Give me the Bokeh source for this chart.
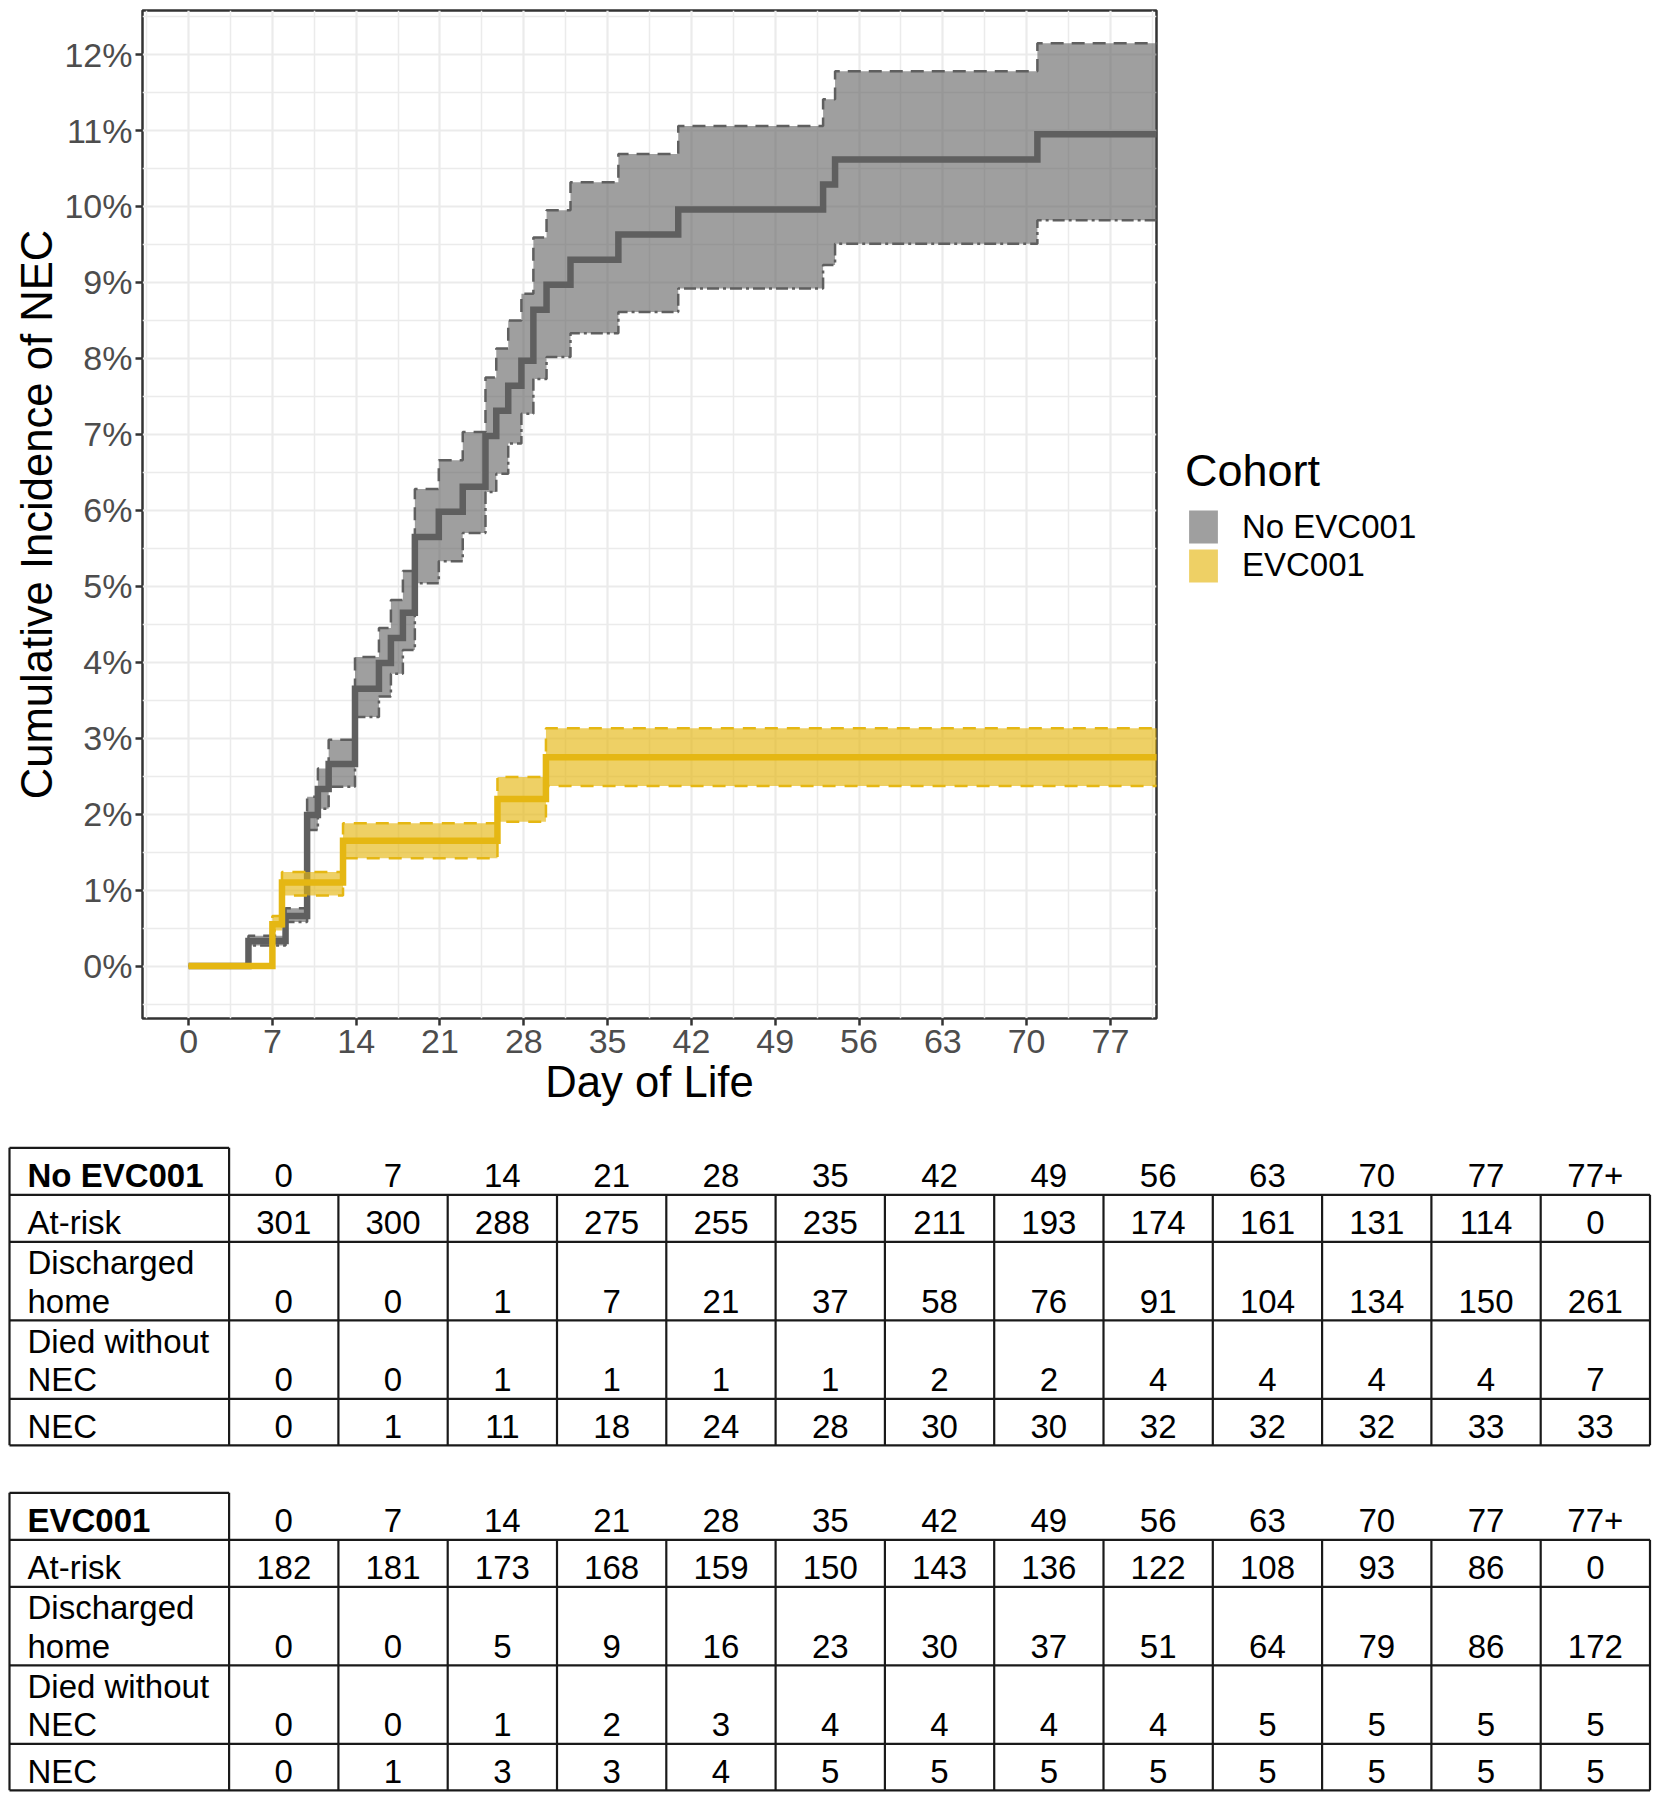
from bokeh.plotting import figure
from bokeh.models import (Range1d, FixedTicker, PrintfTickFormatter, Legend, LegendItem,
                          ColumnDataSource)
from bokeh.layouts import row
from bokeh.core.properties import value
from bokeh.embed import file_html
from bokeh.resources import INLINE

# ---------------- data: cumulative incidence (percent) ----------------
no_evc_day = [0, 5.0, 8.1, 9.9, 10.8, 11.7, 13.9, 15.9, 16.9, 17.9, 18.9, 20.9, 22.9,
              24.8, 25.7, 26.7, 27.8, 28.8, 29.9, 31.9, 35.9, 40.9, 53.0, 54.0, 70.9, 84]
no_evc_est = [0, 0.33, 0.66, 1.99, 2.33, 2.66, 3.65, 3.99, 4.32, 4.65, 5.65, 5.98, 6.31,
              6.98, 7.31, 7.64, 7.97, 8.64, 8.97, 9.30, 9.63, 9.96, 10.29, 10.62, 10.95, 10.95]
no_evc_lo = [0, 0.27, 0.58, 1.79, 2.07, 2.36, 3.28, 3.55, 3.85, 4.16, 5.04, 5.33, 5.70,
             6.24, 6.48, 6.88, 7.27, 7.73, 8.02, 8.33, 8.61, 8.92, 9.23, 9.51, 9.82, 9.82]
no_evc_hi = [0, 0.40, 0.76, 2.23, 2.60, 2.98, 4.07, 4.45, 4.82, 5.20, 6.28, 6.66, 7.03,
             7.75, 8.13, 8.50, 8.85, 9.59, 9.95, 10.32, 10.69, 11.06, 11.41, 11.78, 12.15, 12.15]

evc_day = [0, 7.0, 7.8, 12.9, 25.8, 29.85, 84]
evc_est = [0, 0.55, 1.10, 1.65, 2.20, 2.75, 2.75]
evc_lo = [0, 0.47, 0.93, 1.42, 1.90, 2.37, 2.37]
evc_hi = [0, 0.66, 1.24, 1.88, 2.49, 3.13, 3.13]

x_ticks = [0, 7, 14, 21, 28, 35, 42, 49, 56, 63, 70, 77]
y_ticks = [0, 1, 2, 3, 4, 5, 6, 7, 8, 9, 10, 11, 12]

cohorts = ["No EVC001", "EVC001"]

# ---------------- data: risk tables ----------------
table_times = ["0", "7", "14", "21", "28", "35", "42", "49", "56", "63", "70", "77", "77+"]
row_labels = [["At-risk"], ["Discharged", "home"], ["Died without", "NEC"], ["NEC"]]

no_evc_at_risk = [301, 300, 288, 275, 255, 235, 211, 193, 174, 161, 131, 114, 0]
no_evc_discharged = [0, 0, 1, 7, 21, 37, 58, 76, 91, 104, 134, 150, 261]
no_evc_died = [0, 0, 1, 1, 1, 1, 2, 2, 4, 4, 4, 4, 7]
no_evc_nec = [0, 1, 11, 18, 24, 28, 30, 30, 32, 32, 32, 33, 33]

evc_at_risk = [182, 181, 173, 168, 159, 150, 143, 136, 122, 108, 93, 86, 0]
evc_discharged = [0, 0, 5, 9, 16, 23, 30, 37, 51, 64, 79, 86, 172]
evc_died = [0, 0, 1, 2, 3, 4, 4, 4, 4, 5, 5, 5, 5]
evc_nec = [0, 1, 3, 3, 4, 5, 5, 5, 5, 5, 5, 5, 5]

# ---------------- styles ----------------
FONT = "Liberation Sans"
GRAY = "#5F5F5F"
YELLOW = "#E5B713"
GRID = "#EBEBEB"
TOP, BOTTOM = 10, 112

# ---------------- main plot ----------------
p = figure(width=1158, height=1130, x_range=Range1d(-3.85, 80.85), y_range=Range1d(-0.69, 12.58),
           output_backend="svg", toolbar_location=None,
           min_border_left=142, min_border_right=2, min_border_top=TOP, min_border_bottom=BOTTOM,
           background_fill_color="white", border_fill_color="white")
p.outline_line_color = "#333333"
p.outline_line_width = 2.5

x_minor = [v - 3.5 for v in x_ticks] + [x_ticks[-1] + 3.5]
y_minor = [v - 0.5 for v in y_ticks] + [y_ticks[-1] + 0.5]
p.xaxis.ticker = FixedTicker(ticks=x_ticks, minor_ticks=x_minor)
p.yaxis.ticker = FixedTicker(ticks=y_ticks, minor_ticks=y_minor)
p.yaxis.formatter = PrintfTickFormatter(format="%d%%")
p.xaxis.axis_label = "Day of Life"
p.yaxis.axis_label = "Cumulative Incidence of NEC"
for ax in (p.xaxis[0], p.yaxis[0]):
    ax.axis_line_color = None
    ax.major_tick_line_color = "#333333"
    ax.major_tick_line_width = 2.5
    ax.major_tick_out = 7
    ax.major_tick_in = 0
    ax.minor_tick_line_color = None
    ax.major_label_text_font = FONT
    ax.major_label_text_font_size = "34px"
    ax.major_label_text_color = "#4D4D4D"
    ax.axis_label_text_font = FONT
    ax.axis_label_text_font_size = "43.6px"
    ax.axis_label_text_font_style = "normal"
    ax.axis_label_text_color = "#000000"
p.xaxis.major_label_standoff = 4
p.xaxis.axis_label_standoff = 2
p.yaxis.major_label_standoff = 3
p.yaxis.axis_label_standoff = 0

for g in (p.xgrid[0], p.ygrid[0]):
    g.grid_line_color = GRID
    g.grid_line_width = 2.2
    g.minor_grid_line_color = GRID
    g.minor_grid_line_width = 1.5

# No EVC001
p.varea_step(x=no_evc_day, y1=no_evc_lo, y2=no_evc_hi, step_mode="after",
             fill_color=GRAY, fill_alpha=0.6)
p.step(no_evc_day, no_evc_hi, mode="after", line_color=GRAY, line_width=2.5, line_dash="13 8")
p.step(no_evc_day, no_evc_lo, mode="after", line_color=GRAY, line_width=2.5, line_dash="12 4 3 4")
p.step(no_evc_day, no_evc_est, mode="after", line_color=GRAY, line_width=6.5, line_join="miter")

# EVC001
p.varea_step(x=evc_day, y1=evc_lo, y2=evc_hi, step_mode="after",
             fill_color=YELLOW, fill_alpha=0.65)
p.step(evc_day, evc_hi, mode="after", line_color=YELLOW, line_width=2.5, line_dash="13 9")
p.step(evc_day, evc_lo, mode="after", line_color=YELLOW, line_width=2.5, line_dash="13 9")
p.step(evc_day, evc_est, mode="after", line_color=YELLOW, line_width=6.5, line_join="miter")

# ---------------- legend panel (own figure, to the right of the plot) ----------------
lf = figure(width=500, height=1130, x_range=Range1d(0, 1), y_range=Range1d(0, 1),
            output_backend="svg", toolbar_location=None,
            min_border_left=0, min_border_right=0, min_border_top=TOP, min_border_bottom=BOTTOM,
            x_axis_location=None, y_axis_location=None,
            background_fill_color="white", border_fill_color="white")
lf.grid.visible = False
lf.outline_line_color = None
# zero-height swatches: they only provide the legend keys
k1 = lf.varea(x=[0], y1=[0], y2=[0], fill_color=GRAY, fill_alpha=0.6)
k2 = lf.varea(x=[0], y1=[0], y2=[0], fill_color=YELLOW, fill_alpha=0.65)


def style_legend(lg):
    lg.border_line_color = None
    lg.background_fill_alpha = 0
    lg.padding = 0
    lg.margin = 0
    lg.title_text_font = FONT
    lg.title_text_font_size = "45px"
    lg.title_text_font_style = "normal"
    lg.title_text_color = "#000000"
    lg.title_standoff = 9
    lg.label_text_font = FONT
    lg.label_text_font_size = "33px"
    lg.label_text_color = "#000000"
    lg.glyph_width = 36
    lg.glyph_height = 41
    lg.label_height = 31
    lg.label_standoff = 21
    lg.spacing = 0


legend1 = Legend(items=[LegendItem(label=cohorts[0], renderers=[k1])],
                 title="Cohort", location=(27, 471), orientation="vertical")
legend2 = Legend(items=[LegendItem(label=cohorts[1], renderers=[k2])],
                 location=(27, 432.5), orientation="vertical")
style_legend(legend1)
style_legend(legend2)
lf.add_layout(legend1, "center")
lf.add_layout(legend2, "center")

# ---------------- risk tables ----------------
TW, TH = 1658, 670
t = figure(width=TW, height=TH, x_range=Range1d(0, TW), y_range=Range1d(TH, 0),
           output_backend="svg", toolbar_location=None, min_border=0,
           x_axis_location=None, y_axis_location=None,
           background_fill_color="white", border_fill_color="white")
t.grid.visible = False
t.outline_line_color = None

left_x = 9.0
label_w = 219.6
col_w = 109.3
header_h = 47
row_h = [47, 78.5, 78.5, 46.5]
table_tops = [17.3, 362.3]
base_off = 19.3
line_gap = 38.5
text_dx = 18
right_x = left_x + label_w + col_w * len(table_times)

tables = [(cohorts[0], [no_evc_at_risk, no_evc_discharged, no_evc_died, no_evc_nec]),
          (cohorts[1], [evc_at_risk, evc_discharged, evc_died, evc_nec])]

seg = dict(x0=[], y0=[], x1=[], y1=[])
def add_seg(a, b, c, d):
    seg["x0"].append(a); seg["y0"].append(b); seg["x1"].append(c); seg["y1"].append(d)

txt = dict(x=[], y=[], text=[])
lab = dict(x=[], y=[], text=[])
head = dict(x=[], y=[], text=[])

for (name, rows), top in zip(tables, table_tops):
    bounds = [top, top + header_h]
    for h in row_h:
        bounds.append(bounds[-1] + h)
    bottom = bounds[-1]
    col_x = [left_x + label_w + col_w * i for i in range(len(table_times) + 1)]
    add_seg(left_x, top, col_x[0], top)
    for yy in bounds[1:]:
        add_seg(left_x, yy, right_x, yy)
    add_seg(left_x, top, left_x, bottom)
    add_seg(col_x[0], top, col_x[0], bottom)
    for cx in col_x[1:]:
        add_seg(cx, bounds[1], cx, bottom)
    head["x"].append(left_x + text_dx); head["y"].append(bounds[1] - base_off); head["text"].append(name)
    for i, lbl in enumerate(table_times):
        txt["x"].append(col_x[i] + col_w / 2); txt["y"].append(bounds[1] - base_off)
        txt["text"].append(lbl)
    for r, (labels, vals) in enumerate(zip(row_labels, rows)):
        yy = bounds[r + 2] - base_off
        for k, s in enumerate(reversed(labels)):
            lab["x"].append(left_x + text_dx); lab["y"].append(yy - k * line_gap); lab["text"].append(s)
        for i, v in enumerate(vals):
            txt["x"].append(col_x[i] + col_w / 2); txt["y"].append(yy); txt["text"].append(str(v))

t.segment(x0="x0", y0="y0", x1="x1", y1="y1", source=ColumnDataSource(seg),
          line_color="#1A1A1A", line_width=2.2)
t.text(x="x", y="y", text="text", source=ColumnDataSource(txt), text_align="center",
       text_baseline="alphabetic", text_font_size="33px", text_font=value(FONT),
       text_color="#000000")
t.text(x="x", y="y", text="text", source=ColumnDataSource(lab), text_align="left",
       text_baseline="alphabetic", text_font_size="33px", text_font=value(FONT),
       text_color="#000000")
t.text(x="x", y="y", text="text", source=ColumnDataSource(head), text_align="left",
       text_baseline="alphabetic", text_font_size="33px", text_font=value(FONT),
       text_font_style="bold", text_color="#000000")

open("out.html", "w").write(file_html((row(p, lf), t), INLINE))
